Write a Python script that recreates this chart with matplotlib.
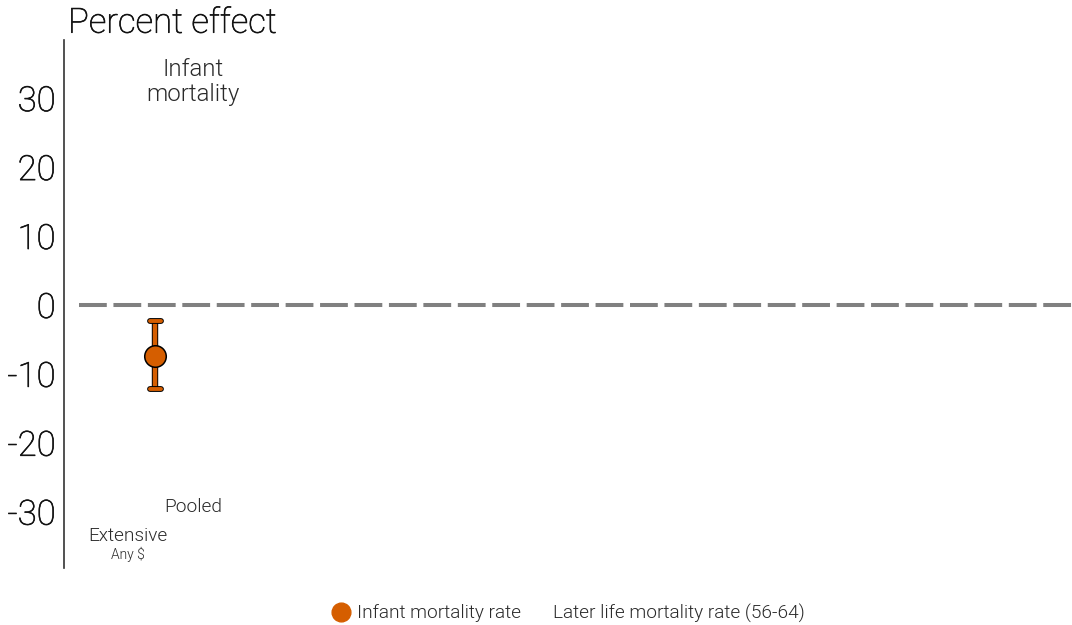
import matplotlib
matplotlib.use("Agg")
import matplotlib.pyplot as plt
import matplotlib.patheffects as pe
from matplotlib.lines import Line2D

plt.rcParams['font.family'] = ['Roboto', 'DejaVu Sans']

# data
estimates = [-7.4]
ci_low = [-12.2]
ci_high = [-2.4]
xpos = [91]
series_names = ["Infant mortality rate", "Later life mortality rate (56-64)"]
yticks = [-30, -20, -10, 0, 10, 20, 30]
orange = "#D55E00"

light = [pe.withStroke(linewidth=0.45, foreground="#111111")]

fig = plt.figure(figsize=(10.72, 6.25), dpi=100)
ax = fig.add_axes([64/1072, (625-568)/625, 1 - 64/1072, (568-40)/625])
ax.set_xlim(0, 1008)
ax.set_ylim(-38.2, 38.4)

ax.axhline(0, xmin=15/1008, xmax=1, color="#808080", lw=2.9, dashes=(6.9, 1.65), zorder=1)

for x, e, lo, hi in zip(xpos, estimates, ci_low, ci_high):
    ax.plot([x, x], [lo, hi], color="black", lw=4.6, solid_capstyle='butt', zorder=1.9)
    ax.plot([x, x], [lo, hi], color=orange, lw=3.2, solid_capstyle='butt', zorder=2)
    for v in (lo, hi):
        ax.plot([x - 5.5, x + 5.5], [v, v], color="black", lw=4.2, solid_capstyle='round', zorder=2.1)
        ax.plot([x - 5.5, x + 5.5], [v, v], color=orange, lw=2.8, solid_capstyle='round', zorder=2.2)
    ax.plot([x], [e], 'o', ms=15.5, mfc=orange, mec="black", mew=1.1, zorder=3)

for s in ['top', 'right', 'bottom']:
    ax.spines[s].set_visible(False)
ax.spines['left'].set_color("#333333")
ax.spines['left'].set_linewidth(1.2)
ax.set_xticks([])
ax.set_yticks(yticks)
ax.set_yticklabels([str(t) for t in yticks])
ax.tick_params(axis='y', length=0, pad=6, labelsize=25, labelcolor="#111111")
for lab in ax.get_yticklabels():
    lab.set_fontweight(100)
    lab.set_path_effects(light)

fig.text(68/1072, 1 - 23/625, "Percent effect", fontsize=25, fontweight=100,
         color="#111111", va='center', ha='left', path_effects=light)

ax.text(129, 32.3, "Infant\nmortality", fontsize=17.3, fontweight=300, color="#2a2a2a",
        ha='center', va='center', linespacing=1.15)
ax.text(129, -29.4, "Pooled", fontsize=13.7, fontweight=300, color="#2a2a2a", ha='center', va='center')
ax.text(64, -33.5, "Extensive", fontsize=13.7, fontweight=300, color="#2a2a2a", ha='center', va='center')
ax.text(64, -36.3, "Any $", fontsize=10, fontweight=300, color="#2a2a2a", ha='center', va='center')

handles = [Line2D([], [], marker='o', ls='none', ms=13.5, mfc=orange, mec=orange),
           Line2D([], [], marker='o', ls='none', ms=13.5, mfc='none', mec='none')]
fig.legend(handles, series_names, loc='center', bbox_to_anchor=(569/1072, 1 - 613/625),
           ncol=2, frameon=False, prop={'size': 13.7, 'weight': 300}, handletextpad=0.45,
           columnspacing=0.45, handlelength=0.8, labelcolor="#2a2a2a")

fig.savefig("out.png", dpi=100)
